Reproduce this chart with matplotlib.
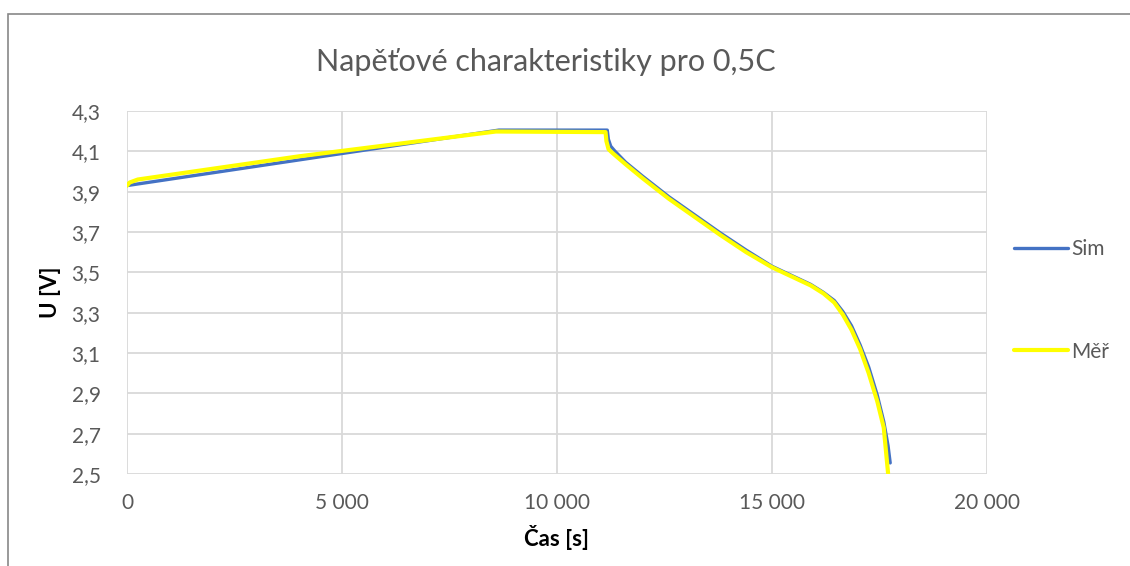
import matplotlib
matplotlib.use("Agg")
import matplotlib.pyplot as plt
from matplotlib.patches import Rectangle
from matplotlib.ticker import FuncFormatter

plt.rcParams['font.family'] = ['Lato', 'DejaVu Sans']

# simulace
sim_t = [0, 8650, 11170, 11195, 11250, 11350, 11600, 12000, 12600, 13200, 13800, 14400,
         15000, 15500, 15900, 16200, 16450, 16650, 16850, 17050, 17250, 17450, 17600, 17700, 17750]
sim_u = [3.93, 4.205, 4.205, 4.16, 4.125, 4.1, 4.045, 3.975, 3.875, 3.785, 3.695, 3.61,
         3.53, 3.48, 3.44, 3.40, 3.36, 3.305, 3.235, 3.14, 3.03, 2.89, 2.76, 2.64, 2.555]

# mereni
mer_t = [0, 60, 250, 4000, 8580, 11130, 11150, 11200, 11300, 11600, 12000, 12600, 13200,
         13800, 14400, 15000, 15500, 15900, 16200, 16450, 16650, 16850, 17050, 17250,
         17450, 17600, 17700]
mer_u = [3.93, 3.945, 3.96, 4.075, 4.198, 4.195, 4.15, 4.11, 4.09, 4.035, 3.965, 3.865, 3.775,
         3.685, 3.6, 3.525, 3.475, 3.435, 3.395, 3.35, 3.29, 3.215, 3.12, 3.0,
         2.86, 2.73, 2.505]

y_ticks = [2.5, 2.7, 2.9, 3.1, 3.3, 3.5, 3.7, 3.9, 4.1, 4.3]
x_ticks = [0, 5000, 10000, 15000, 20000]

fig = plt.figure(figsize=(11.3, 5.66), dpi=100)
ax = fig.add_axes([0.1124, 0.1625, 0.761, 0.6415])

ax.plot(sim_t, sim_u, color='#4472c4', lw=2.4, label='Sim', solid_capstyle='round')
ax.plot(mer_t, mer_u, color='#ffff00', lw=3.0, label='Měř', solid_capstyle='round')

ax.set_xlim(0, 20000)
ax.set_ylim(2.5, 4.3)
ax.set_xticks(x_ticks)
ax.set_yticks(y_ticks)
ax.xaxis.set_major_formatter(FuncFormatter(lambda v, p: f"{int(v):,}".replace(",", " ")))
ax.yaxis.set_major_formatter(FuncFormatter(lambda v, p: f"{v:.1f}".replace(".", ",")))
ax.grid(True, color='#d9d9d9', lw=1.3)
ax.set_axisbelow(True)
for s in ax.spines.values():
    s.set_visible(False)
ax.tick_params(length=0, labelsize=15, labelcolor='#595959', pad=14)
ax.tick_params(axis='y', pad=19)

fig.text(546 / 1130, 1 - 62 / 566, 'Napěťové charakteristiky pro 0,5C', fontsize=22,
         color='#595959', ha='center', va='center')
ax.set_xlabel('Čas [s]', fontsize=16, fontweight='bold', labelpad=8)
ax.set_ylabel('U [V]', fontsize=16, fontweight='bold', labelpad=8)

leg = ax.legend(loc='center left', bbox_to_anchor=(1.01, 0.478), frameon=False,
                fontsize=15, labelspacing=3.95, handlelength=2.6, handletextpad=0.15)
for t in leg.get_texts():
    t.set_color('#595959')

fig.patches.append(Rectangle((8 / 1130, -0.1), 1.2, 1 - 14 / 566 + 0.1,
                             transform=fig.transFigure, fill=False,
                             edgecolor='#888888', lw=1.2))

fig.savefig('out.png', dpi=100)
